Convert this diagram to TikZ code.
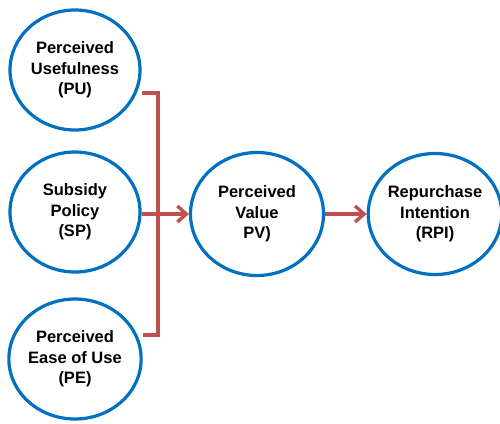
\documentclass[tikz,border=0pt]{standalone}
\usepackage{fontspec}
\setmainfont{Liberation Sans}
\usetikzlibrary{arrows.meta,shapes.geometric}
\definecolor{cblue}{RGB}{0,112,192}
\definecolor{cred}{RGB}{192,80,77}
\begin{document}
\begin{tikzpicture}[x=1pt,y=-1pt,
  concept/.style={draw=cblue,line width=3.2pt,ellipse,minimum width=130pt,minimum height=120pt,inner sep=0pt,
    align=center,font=\fontsize{16.5}{20.5}\selectfont\bfseries,fill=white},
  link/.style={draw=cred,line width=3.6pt},
  arr/.style={link,-{Straight Barb[length=9pt,width=16pt,line width=3.4pt]}}]
\useasboundingbox (0,0) rectangle (500,423);
\node[concept] (pu) at (75,70) {Perceived\\Usefulness\\(PU)};
\node[concept] (sp) at (75,212) {Subsidy\\Policy\\(SP)};
\node[concept] (pe) at (75,359) {Perceived\\Ease of Use\\(PE)};
\node[concept,minimum width=133pt,minimum height=123pt] (pv) at (257,214) {Perceived\\Value\\PV)};
\node[concept,minimum width=127pt,minimum height=121pt] (rpi) at (435,214) {Repurchase\\Intention\\(RPI)};
\coordinate (jt) at (158,93);
\coordinate (jb) at (158,335);
\draw[link] (pu.east |- jt) -- (jt) -- (jb) -- (pe.east |- jb);
\draw[arr] (sp.east |- pv.west) -- (pv.west);
\draw[arr] (pv.east) -- (rpi.west);
\end{tikzpicture}
\end{document}
